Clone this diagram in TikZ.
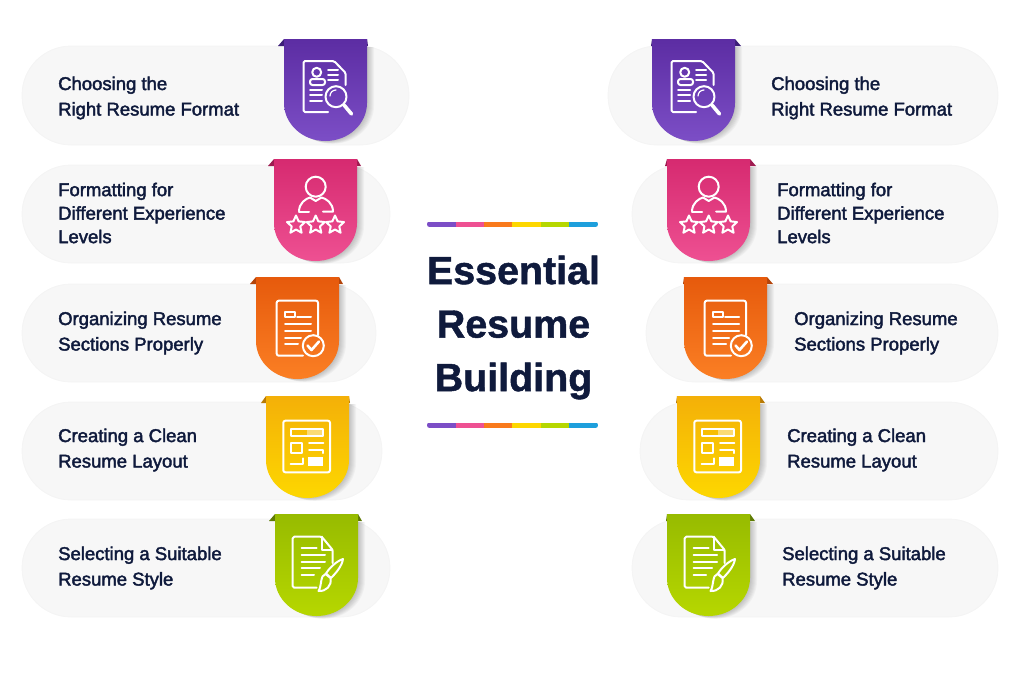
\documentclass[tikz,border=0pt]{standalone}
\usepackage{fontspec}
\usepackage{xcolor}
\usepackage{tikz}
\usetikzlibrary{calc}
\setmainfont{Liberation Sans}
\newfontfamily\cardfont{Liberation Sans}[FakeBold=2.2]
\newfontfamily\titlefont{Liberation Sans Bold}[FakeBold=1.2]
\definecolor{pillgray}{HTML}{F7F7F7}
\definecolor{pilledge}{HTML}{F4F4F4}
\definecolor{inktext}{HTML}{0F1A3C}
\definecolor{purpletop}{HTML}{5C2DA3}
\definecolor{purplebot}{HTML}{7C4EC6}
\definecolor{purpleflap}{HTML}{3D1E78}
\definecolor{pinktop}{HTML}{D62A70}
\definecolor{pinkbot}{HTML}{EE5092}
\definecolor{pinkflap}{HTML}{9E1B50}
\definecolor{orangetop}{HTML}{E65A0C}
\definecolor{orangebot}{HTML}{FB7F24}
\definecolor{orangeflap}{HTML}{B3440A}
\definecolor{yellowtop}{HTML}{F4B008}
\definecolor{yellowbot}{HTML}{FDD700}
\definecolor{yellowflap}{HTML}{B87A05}
\definecolor{greentop}{HTML}{97BB00}
\definecolor{greenbot}{HTML}{B6D700}
\definecolor{greenflap}{HTML}{5E7A05}
\definecolor{barorange}{HTML}{F97A1C}
\definecolor{barblue}{HTML}{1E9FDC}
\tikzset{
  pill/.style={fill=pillgray, draw=pilledge, line width=0.8pt, rounded corners=49pt},
  iconline/.style={draw=white, line width=2pt, line cap=round, line join=round},
  cardtext/.style={anchor=west, align=left, inner sep=0pt, text=inktext, font=\cardfont\fontsize{18.5}{25.5}\selectfont},
  cardtextthree/.style={cardtext, font=\cardfont\fontsize{18.5}{23.5}\selectfont},
  pics/iconsearch/.style={code={
    \draw[iconline, rounded corners=1.5pt] (44,73) -- (19.5,73) -- (19.5,22) -- (50,22) -- (61.7,34) -- (61.7,46);
    \draw[iconline] (32.7,33.3) circle (4.5);
    \draw[iconline, rounded corners=2.5pt] (26,46) -- (26,40) -- (41,40) -- (41,46) -- cycle;
    \foreach \yy in {31,36,41} \draw[iconline] (44,\yy) -- (54,\yy);
    \foreach \yy in {51,56,61.5} \draw[iconline] (26,\yy) -- (38,\yy);
    \draw[iconline] (52,57.7) circle (10.5);
    \draw[iconline, line width=1.2pt] (46,57) arc (180:270:6);
    \draw[iconline, line width=3.6pt] (60,66) -- (67.5,75);
  }},
  pics/iconstars/.style={code={
    \draw[iconline] (41.7,27.7) circle (10);
    \draw[iconline] (25,52.5) .. controls (25,44) and (32,39.5) .. (36,38.5) -- (41.7,42) -- (47.5,38.5) .. controls (52,39.5) and (59,44) .. (59,52.5) -- (49,52.5);
    \draw[iconline] (25,52.5) -- (35,52.5);
    \foreach \xx in {22,41.7,61} \draw[iconline, shift={(\xx,66)}] (-90:9.5) -- (-54:4.5) -- (-18:9.5) -- (18:4.5) -- (54:9.5) -- (90:4.5) -- (126:9.5) -- (162:4.5) -- (198:9.5) -- (234:4.5) -- cycle;
  }},
  pics/iconcheck/.style={code={
    \draw[iconline, rounded corners=2pt] (47,78.7) -- (20.7,78.7) -- (20.7,23.7) -- (62,23.7) -- (62,58);
    \draw[iconline] (29,35.3) rectangle (39,40.3);
    \draw[iconline] (41,40.3) -- (55,40.3);
    \draw[iconline] (29,47) -- (55,47);
    \draw[iconline] (29,54) -- (55,54);
    \draw[iconline] (29,60.7) -- (45,60.7);
    \draw[iconline] (29,67) -- (42,67);
    \draw[iconline] (57.3,68.7) circle (10.5);
    \draw[iconline, line width=2.6pt] (51.5,68.5) -- (55.5,73) -- (63,64.5);
  }},
  pics/iconlayout/.style={code={
    \draw[iconline, rounded corners=2pt] (17.3,24.7) rectangle (64,76.3);
    \draw[iconline] (24.7,33.3) rectangle (56.7,39.7);
    \fill[white, opacity=0.45] (41,33.3) rectangle (56.7,39.7);
    \draw[iconline] (24.7,47.3) rectangle (36,57.3);
    \draw[iconline] (43,47.3) -- (57.3,47.3);
    \draw[iconline] (43,54) -- (57.3,54) -- (57.3,57);
    \draw[iconline] (24.7,68.3) -- (37.3,68.3) -- (37.3,62.3);
    \fill[white] (42.3,61.3) rectangle (57.3,70);
  }},
  pics/iconbrush/.style={code={
    \draw[iconline, rounded corners=1.5pt] (41.7,73.7) -- (17.7,73.7) -- (17.7,22.7) -- (46.7,22.7) -- (57.7,36) -- (57.7,49);
    \draw[iconline] (46.7,22.7) -- (46.7,36) -- (57.7,36);
    \draw[iconline] (26.7,34) -- (41.7,34);
    \draw[iconline] (26.7,41) -- (50,41);
    \draw[iconline] (26.7,47.7) -- (50,47.7);
    \draw[iconline] (26.7,54) -- (45,54);
    \draw[iconline] (26.7,61) -- (39,61);
    \draw[iconline] (51,59.5) .. controls (55,53) and (62,47) .. (68,45) .. controls (67,52) and (61,59) .. (56,64) -- cycle;
    \draw[iconline] (50.5,60) .. controls (45,61) and (47,72) .. (43.5,77) .. controls (51,77.5) and (57,72) .. (55.5,64) -- cycle;
  }},
}
%one ribbon: left x, top y, left flap, right flap, colour, icon
\newcommand{\resumebadge}[6]{
  \begin{scope}[shift={(#1,#2)}]
    \foreach \s in {1,...,7}
      \fill[black, opacity=0.03] (\s,8) -- (83+\s,8) -- (83+\s,64+0.4*\s) arc (0:180:41.5 and 38) -- cycle;
    \fill[#5flap] (-#3,7) -- (0,0) -- (83,0) -- (83+#4,7) -- cycle;
    \shade[top color=#5top, bottom color=#5bot] (0,0) -- (83,0) -- (83,64) arc (0:180:41.5 and 38) -- cycle;
    \path (0,0) pic {#6};
  \end{scope}
}
\begin{document}
\begin{tikzpicture}[x=1pt,y=-1pt]
  \useasboundingbox (0,0) rectangle (1024,683);
  %PILLS LEFT
  \draw[pill] (22,46) rectangle (409,145);
  \draw[pill] (22,165) rectangle (390,263);
  \draw[pill] (22,284) rectangle (376,382);
  \draw[pill] (22,402) rectangle (382,500);
  \draw[pill] (22,519) rectangle (390,617);
  %PILLS RIGHT
  \draw[pill] (608,46) rectangle (998,145);
  \draw[pill] (632,165) rectangle (998,263);
  \draw[pill] (646,284) rectangle (998,382);
  \draw[pill] (640,402) rectangle (998,500);
  \draw[pill] (632,519) rectangle (998,617);
  %RIBBONS
  \resumebadge{284}{39}{6}{1}{purple}{iconsearch}
  \resumebadge{274}{159}{6}{4}{pink}{iconstars}
  \resumebadge{256}{277}{6}{4}{orange}{iconcheck}
  \resumebadge{266}{396}{5}{1}{yellow}{iconlayout}
  \resumebadge{275}{514}{6}{4}{green}{iconbrush}
  \resumebadge{652}{39}{1}{6}{purple}{iconsearch}
  \resumebadge{667}{159}{2}{6}{pink}{iconstars}
  \resumebadge{684}{277}{1}{6}{orange}{iconcheck}
  \resumebadge{677}{396}{1}{5}{yellow}{iconlayout}
  \resumebadge{667}{514}{1}{5}{green}{iconbrush}
  %TEXT LEFT
  \node[cardtext] (left1) at (58,98) {Choosing the\\Right Resume Format};
  \node[cardtextthree] (left2) at (58,213) {Formatting for\\Different Experience\\Levels};
  \node[cardtext] (left3) at (58,333) {Organizing Resume\\Sections Properly};
  \node[cardtext] (left4) at (58,450) {Creating a Clean\\Resume Layout};
  \node[cardtext] (left5) at (58,568) {Selecting a Suitable\\Resume Style};
  %TEXT RIGHT
  \node[cardtext] (right1) at (771,98) {Choosing the\\Right Resume Format};
  \node[cardtextthree] (right2) at (777,213) {Formatting for\\Different Experience\\Levels};
  \node[cardtext] (right3) at (794,333) {Organizing Resume\\Sections Properly};
  \node[cardtext] (right4) at (787,450) {Creating a Clean\\Resume Layout};
  \node[cardtext] (right5) at (782,568) {Selecting a Suitable\\Resume Style};
  %TITLE
  \node[text=inktext, align=center, font=\titlefont\fontsize{39.4}{53.5}\selectfont] (title) at (513.5,327.5) {Essential\\Resume\\Building};
  %BARS
  \foreach \yy in {221.5,422.5}{
    \begin{scope}
      \clip[rounded corners=2.5pt] (427,\yy) rectangle (598,\yy+5.5);
      \fill[fill=purplebot] (427,\yy) rectangle (456,\yy+5.5);
      \fill[fill=pinkbot] (456,\yy) rectangle (484,\yy+5.5);
      \fill[fill=barorange] (484,\yy) rectangle (512,\yy+5.5);
      \fill[fill=yellowbot] (512,\yy) rectangle (541,\yy+5.5);
      \fill[fill=greenbot] (541,\yy) rectangle (569,\yy+5.5);
      \fill[fill=barblue] (569,\yy) rectangle (598,\yy+5.5);
    \end{scope}
  }
\end{tikzpicture}
\end{document}
